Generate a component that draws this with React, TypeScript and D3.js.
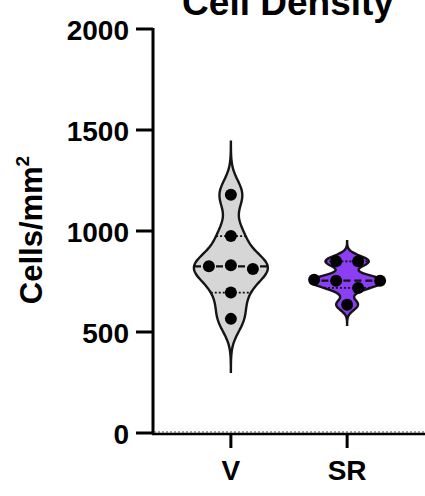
import React from "react";
import * as d3 from "d3";

// Cell density per group (cells/mm²)
const groups = ["V", "SR"];
const valuesV = [1180, 975, 825, 830, 812, 695, 565];
const valuesSR = [850, 850, 759, 754, 718, 754, 635];
const fills = ["#d6d6d6", "#8b3ef3"];
const yTicks = [0, 500, 1000, 1500, 2000];

const W = 425;
const H = 496;
const FONT = "'Liberation Sans', Arial, sans-serif";

const series = [valuesV, valuesSR];

function quantile(sorted: number[], p: number) {
  // Percentile on the (n+1) basis
  const n = sorted.length;
  const pos = p * (n + 1) - 1;
  const lo = Math.max(0, Math.min(n - 1, Math.floor(pos)));
  const hi = Math.max(0, Math.min(n - 1, Math.ceil(pos)));
  return sorted[lo] + (sorted[hi] - sorted[lo]) * (pos - Math.floor(pos));
}

export default function App() {
  const y = d3.scaleLinear().domain([0, 2000]).range([433, 29]);
  const x = d3.scalePoint<string>().domain(groups).range([153, 425]).padding(0.67);
  const halfMax = 37;
  const dotR = 6;
  const step = 22;

  const violins = series.map((vals, gi) => {
    const cx = x(groups[gi]) as number;
    const sd = d3.deviation(vals) as number;
    const bw = 0.36 * sd;
    const lo = (d3.min(vals) as number) - 3.7 * bw;
    const hi = (d3.max(vals) as number) + 3.7 * bw;
    const dens = (v: number) =>
      d3.sum(vals, (d) => Math.exp(-0.5 * ((v - d) / bw) ** 2));
    const grid = d3.range(0, 161).map((i) => lo + ((hi - lo) * i) / 160);
    const maxD = d3.max(grid, dens) as number;
    const half = (v: number) => (dens(v) / maxD) * halfMax;
    const area = d3
      .area<number>()
      .y((v) => y(v))
      .x0((v) => cx - half(v))
      .x1((v) => cx + half(v))
      .curve(d3.curveBasis);

    const sorted = [...vals].sort((a, b) => a - b);
    const med = d3.median(vals) as number;
    const q1 = quantile(sorted, 0.25);
    const q3 = quantile(sorted, 0.75);

    // Group points into rows of nearby values, then spread each row evenly
    const order = vals.map((v, i) => i).sort((a, b) => vals[b] - vals[a]);
    const rows: number[][] = [];
    order.forEach((i) => {
      const last = rows[rows.length - 1];
      if (last && Math.abs(y(vals[i]) - y(vals[last[last.length - 1]])) < 12) last.push(i);
      else rows.push([i]);
    });
    const dots: { cx: number; cy: number }[] = [];
    rows.forEach((row) => {
      const ids = [...row].sort((a, b) => a - b);
      ids.forEach((i, k) => {
        dots.push({ cx: cx + (k - (ids.length - 1) / 2) * step, cy: y(vals[i]) });
      });
    });

    return { cx, path: area(grid) as string, med, q1, q3, half, dots, fill: fills[gi] };
  });

  return (
    <svg width={W} height={H} style={{ position: "absolute", left: 0, top: 0 }}>
      <rect width={W} height={H} fill="#fff" />
      <text x={288} y={15} textAnchor="middle" fontFamily={FONT} fontWeight="bold" fontSize={37} fill="#000">
        Cell Density
      </text>

      {violins.map((v, i) => (
        <g key={i}>
          <path d={v.path} fill={v.fill} stroke="#151515" strokeWidth={2.4} />
          <line x1={v.cx - v.half(v.med)} x2={v.cx + v.half(v.med)} y1={y(v.med)} y2={y(v.med)}
            stroke="#111" strokeWidth={2.2} strokeDasharray="7,4" />
          {[v.q1, v.q3].map((q, k) => (
            <line key={k} x1={v.cx - v.half(q)} x2={v.cx + v.half(q)} y1={y(q)} y2={y(q)}
              stroke="#111" strokeWidth={1.7} strokeDasharray="2,2" />
          ))}
          {v.dots.map((d, k) => (
            <circle key={k} cx={d.cx} cy={d.cy} r={dotR} fill="#000" />
          ))}
        </g>
      ))}

      {/* y axis */}
      <line x1={153} x2={153} y1={y(2000) - 1} y2={y(0) + 1.5} stroke="#000" strokeWidth={3} />
      {yTicks.map((t) => (
        <g key={t}>
          <line x1={136} x2={153} y1={y(t)} y2={y(t)} stroke="#000" strokeWidth={3} />
          <text x={129} y={y(t) + 11} textAnchor="end" fontFamily={FONT} fontWeight="bold" fontSize={28}>
            {t}
          </text>
        </g>
      ))}
      <text transform={`translate(42,230) rotate(-90)`} textAnchor="middle" fontFamily={FONT}
        fontWeight="bold" fontSize={31}>
        Cells/mm<tspan fontSize={19} dy={-13}>2</tspan>
      </text>

      {/* x axis */}
      <line x1={152} x2={W} y1={y(0) + 1} y2={y(0) + 1} stroke="#000" strokeWidth={2.5} />
      <line x1={154} x2={W} y1={y(0) - 1} y2={y(0) - 1} stroke="#444" strokeWidth={1.2} strokeDasharray="2,2" />
      {groups.map((g) => (
        <g key={g}>
          <line x1={x(g)} x2={x(g)} y1={y(0)} y2={y(0) + 15} stroke="#000" strokeWidth={3} />
          <text x={x(g)} y={480} textAnchor="middle" fontFamily={FONT} fontWeight="bold" fontSize={28}>
            {g}
          </text>
        </g>
      ))}
    </svg>
  );
}
